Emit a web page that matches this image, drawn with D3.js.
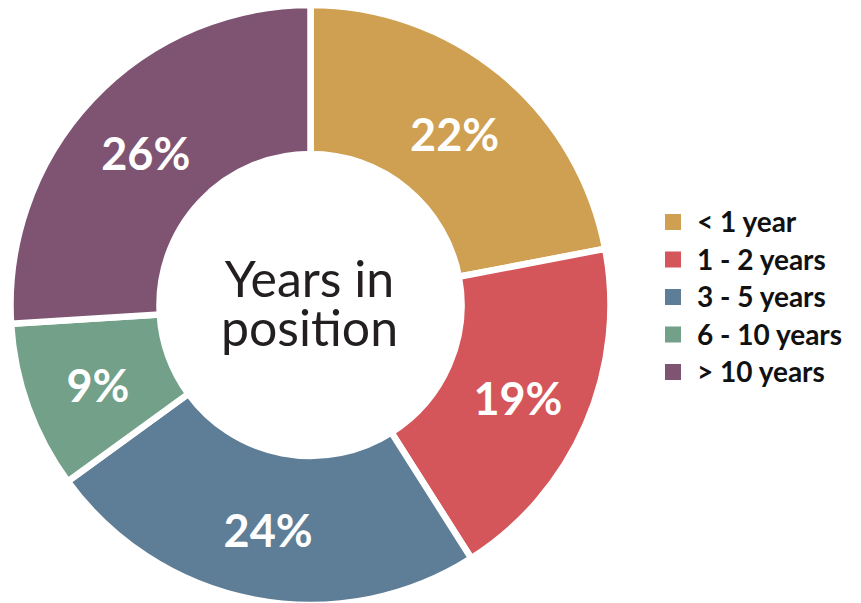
<!DOCTYPE html>
<html lang="en">
<head>
	<meta charset="utf-8">
	<title>Years in position</title>
	<script src="https://d3js.org/d3.v7.min.js"></script>
	<style>
		body { margin: 0; background: #fff; }
		text { font-family: Lato, "Open Sans", sans-serif; }
	</style>
</head>
<body>
	<div id="chart"></div>
	<script>
		// data
		var categories = ["< 1 year", "1 - 2 years", "3 - 5 years", "6 - 10 years", "> 10 years"];
		var shares = [22, 19, 24, 9, 26];
		var colors = ["#cfa052", "#d4555a", "#5e7d96", "#72a088", "#7f5473"];
		var centerLines = ["Years in", "position"];

		var width = 861, height = 603;
		var cx = 310.5, cy = 305;
		var outerR = 300, innerR = 151; // white 6px stroke eats 3px on each edge

		var svg = d3.select("#chart")
			.append("svg")
			.attr("width", width)
			.attr("height", height);

		var g = svg.append("g")
			.attr("transform", "translate(" + cx + "," + cy + ")");

		var color = d3.scaleOrdinal().domain(categories).range(colors);

		var pie = d3.pie().sort(null).value(function (d, i) { return shares[i]; });
		var arcs = pie(categories);

		var arc = d3.arc().innerRadius(innerR).outerRadius(outerR);
		var labelArc = d3.arc().innerRadius(226).outerRadius(226);

		g.selectAll("path.slice")
			.data(arcs)
			.enter()
			.append("path")
			.attr("class", "slice")
			.attr("d", arc)
			.attr("fill", function (d) { return color(d.data); })
			.attr("stroke", "#fff")
			.attr("stroke-width", 6.5)
			.attr("stroke-linejoin", "miter");

		// percentage labels
		g.selectAll("text.pct")
			.data(arcs)
			.enter()
			.append("text")
			.attr("class", "pct")
			.attr("transform", function (d) {
				var c = labelArc.centroid(d);
				return "translate(" + c[0] + "," + (c[1] + 4) + ")";
			})
			.attr("text-anchor", "middle")
			.attr("dy", "0.36em")
			.attr("fill", "#fff")
			.attr("font-weight", 700)
			.attr("font-size", 45)
			.text(function (d, i) { return shares[i] + "%"; });

		// center title
		g.selectAll("text.center")
			.data(centerLines)
			.enter()
			.append("text")
			.attr("class", "center")
			.attr("text-anchor", "middle")
			.attr("x", -1)
			.attr("y", function (d, i) { return -8 + i * 49; })
			.attr("fill", "#231f20")
			.attr("font-size", 50)
			.text(function (d) { return d; });

		// legend
		var legend = svg.append("g")
			.attr("transform", "translate(665,222)");

		var row = legend.selectAll("g.row")
			.data(categories)
			.enter()
			.append("g")
			.attr("class", "row")
			.attr("transform", function (d, i) { return "translate(0," + (i * 37.5) + ")"; });

		row.append("rect")
			.attr("x", 0)
			.attr("y", -8)
			.attr("width", 16)
			.attr("height", 16)
			.attr("fill", function (d) { return color(d); });

		row.append("text")
			.attr("x", 32)
			.attr("dy", "0.36em")
			.attr("fill", "#111")
			.attr("font-weight", 700)
			.attr("font-size", 28)
			.text(function (d) { return d; });
	</script>
</body>
</html>
